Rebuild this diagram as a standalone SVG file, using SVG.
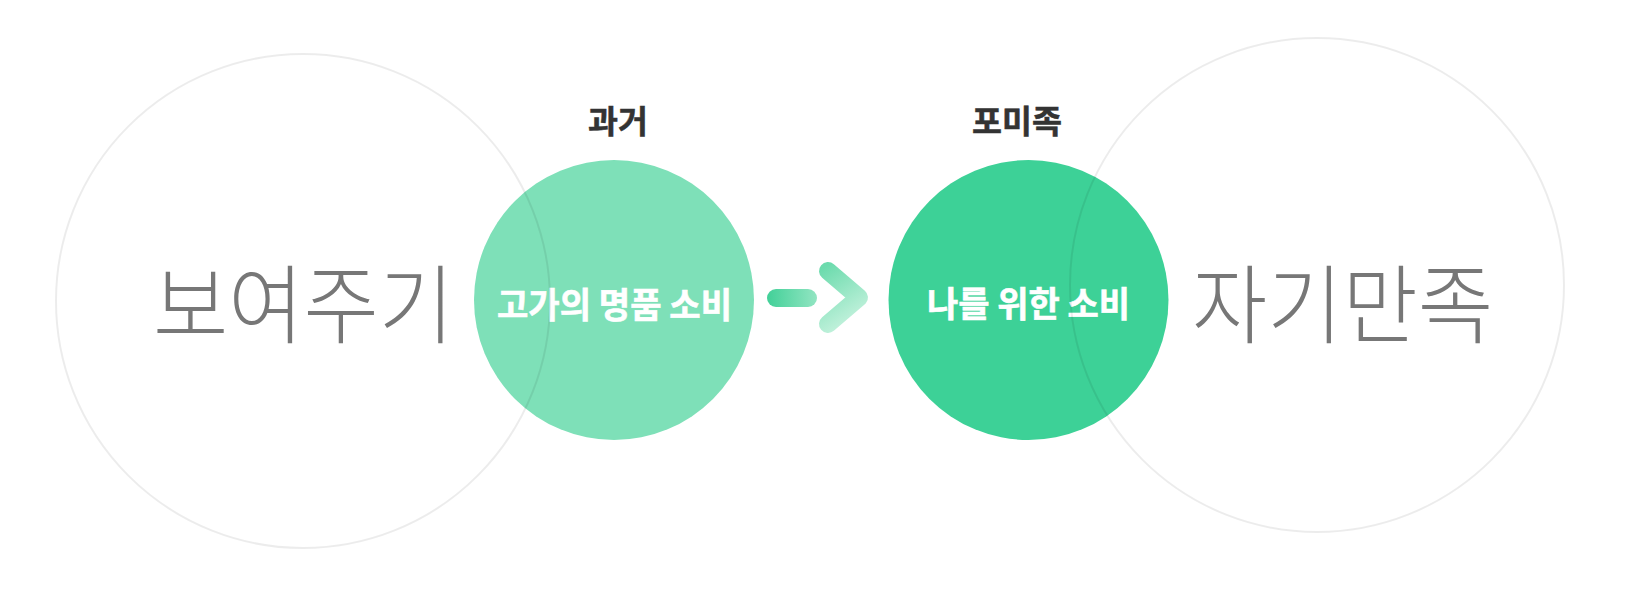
<svg xmlns="http://www.w3.org/2000/svg" width="1629" height="597" viewBox="0 0 1629 597">
<style>
.big{fill:none;stroke:#000;stroke-opacity:0.075;stroke-width:2}
.title{font-family:"Noto Sans CJK KR","Noto Sans",sans-serif;font-weight:700;font-size:32px;fill:#333;stroke:#333;stroke-width:0.5;text-anchor:middle;dominant-baseline:central}
.inner{font-family:"Noto Sans CJK KR","Noto Sans",sans-serif;font-weight:700;font-size:35px;fill:#fff;stroke:#fff;stroke-width:0.6;text-anchor:middle;dominant-baseline:central}
.huge{font-family:"Noto Sans CJK KR","Noto Sans",sans-serif;font-weight:300;font-size:86px;fill:#777;text-anchor:middle;dominant-baseline:central}
</style>
<defs>
<linearGradient id="gDash" gradientUnits="userSpaceOnUse" x1="767" y1="298" x2="817" y2="298">
<stop offset="0" stop-color="#42d098"/><stop offset="1" stop-color="#92e5c2"/>
</linearGradient>
<linearGradient id="gChev" gradientUnits="userSpaceOnUse" x1="826" y1="266" x2="868" y2="330">
<stop offset="0" stop-color="#6cdbad"/><stop offset="1" stop-color="#d8f7e8"/>
</linearGradient>
</defs>
<rect width="1629" height="597" fill="#fff"/>
<g id="node-past">
<circle cx="614" cy="300" r="140" fill="#7ee0b8"/>
<text class="title" x="618" y="119" textLength="60" lengthAdjust="spacingAndGlyphs">과거</text>
<text class="inner" x="614.5" y="302" textLength="235" lengthAdjust="spacingAndGlyphs">고가의 명품 소비</text>
</g>
<g id="node-fomi">
<circle cx="1028.5" cy="300" r="140" fill="#3dd197"/>
<text class="title" x="1017" y="119" textLength="90" lengthAdjust="spacingAndGlyphs">포미족</text>
<text class="inner" x="1028.5" y="301" textLength="203" lengthAdjust="spacingAndGlyphs">나를 위한 소비</text>
</g>
<g id="node-show">
<circle class="big" cx="303" cy="301" r="247"/>
<text class="huge" x="303.5" y="299" textLength="301" lengthAdjust="spacingAndGlyphs">보여주기</text>
</g>
<g id="node-self">
<circle class="big" cx="1317" cy="285" r="247"/>
<text class="huge" x="1342.5" y="299" textLength="301" lengthAdjust="spacingAndGlyphs">자기만족</text>
</g>
<g id="connectors">
<line x1="776" y1="298" x2="808" y2="298" stroke="url(#gDash)" stroke-width="18" stroke-linecap="round"/>
<polyline points="828,271 859,297.5 828,324" fill="none" stroke="url(#gChev)" stroke-width="18" stroke-linecap="round" stroke-linejoin="round"/>
</g>
</svg>
